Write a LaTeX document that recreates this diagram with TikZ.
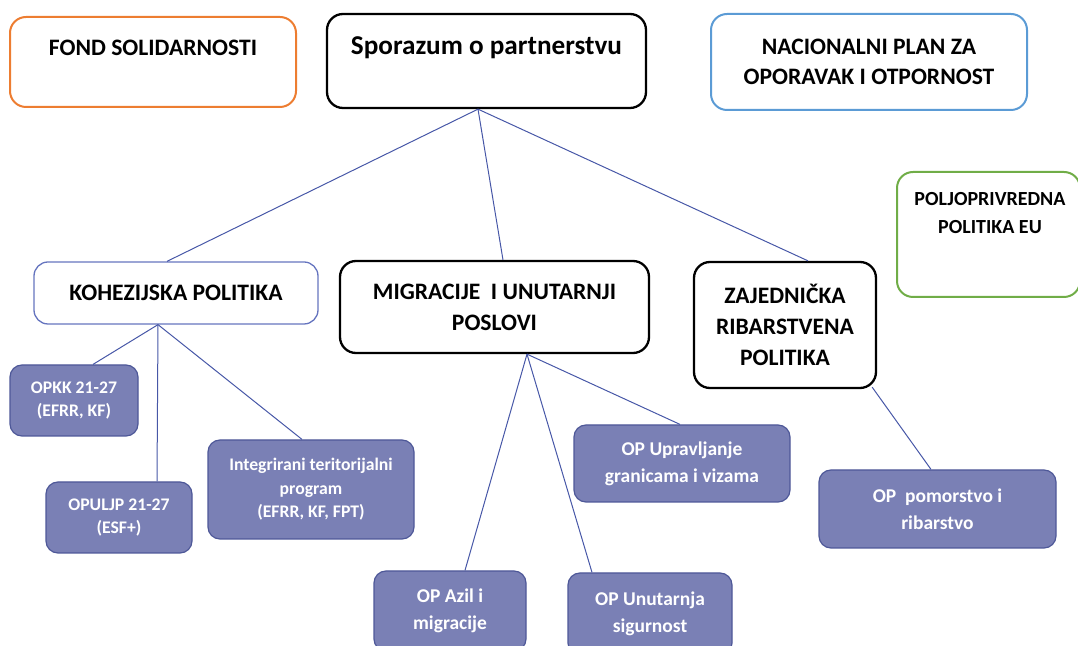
\documentclass[tikz,border=0pt]{standalone}
\usepackage{fontspec}
\setmainfont{Carlito}
\definecolor{opfill}{HTML}{7A80B5}
\definecolor{opline}{HTML}{4E5898}
\definecolor{conn}{HTML}{4757A7}
\definecolor{orangeline}{HTML}{ED7D31}
\definecolor{blueline}{HTML}{5B9BD5}
\definecolor{greenline}{HTML}{70AD47}
\definecolor{kohline}{HTML}{6574BF}
\tikzstyle{bigfont}=[font=\fontsize{11.8}{15.5}\selectfont\bfseries]
\tikzstyle{mainbox}=[draw, line width=1.15pt, rounded corners=8pt,
    align=center, inner sep=0pt, bigfont]
\tikzstyle{framebox}=[draw, line width=1pt, rounded corners=8pt,
    align=center, inner sep=0pt, bigfont]
\tikzstyle{kohbox}=[draw=kohline, line width=0.65pt, rounded corners=7pt,
    align=center, inner sep=0pt, bigfont]
\tikzstyle{lbl}=[align=center, inner sep=0pt, bigfont]
\tikzstyle{opbox}=[draw=opline, fill=opfill, line width=0.6pt,
    rounded corners=6pt, text=white, align=center, inner sep=0pt,
    font=\fontsize{9.75}{13.5}\selectfont\bfseries]
\tikzstyle{opsmall}=[opbox, font=\fontsize{8.85}{11.75}\selectfont\bfseries]
\tikzstyle{link}=[draw=conn, line width=0.5pt]
\begin{document}
\begin{tikzpicture}[x=0.5pt, y=-0.5pt]
    \useasboundingbox (0,0) rectangle (1078,646);
    % top row
    \node (fond) [framebox, draw=orangeline, minimum width=143pt,
        minimum height=45pt] at (153,62) {};
    \node (fondtxt) [lbl, anchor=base] at ([yshift=-19.85pt]fond.north)
        {FOND SOLIDARNOSTI};
    \node (spor) [mainbox, minimum width=159.5pt, minimum height=47pt]
        at (486.5,61) {};
    \node (sportxt) [lbl, anchor=base, font=\fontsize{13.6}{16}\selectfont\bfseries]
        at ([yshift=-20.9pt]spor.north) {Sporazum o partnerstvu};
    \node (npoo) [framebox, draw=blueline, minimum width=158pt,
        minimum height=48pt, font=\fontsize{11.8}{15}\selectfont\bfseries]
        at (869,62) {NACIONALNI PLAN ZA\\OPORAVAK I OTPORNOST};
    \node (poljo) [framebox, draw=greenline, minimum width=91.5pt,
        minimum height=62.5pt] at (988.5,234.5) {};
    \node (poljotxt) [lbl, anchor=north, font=\fontsize{10}{14}\selectfont\bfseries]
        at ([xshift=0.75pt, yshift=-10.3pt]poljo.north)
        {POLJOPRIVREDNA\\POLITIKA EU};
    % policies
    \node (kohez) [kohbox, minimum width=142pt, minimum height=31pt]
        at (176,293) {KOHEZIJSKA POLITIKA};
    \node (migr) [mainbox, minimum width=154.5pt, minimum height=46pt]
        at (494.5,307) {MIGRACIJE\ \ I UNUTARNJI\\POSLOVI};
    \node (zajed) [mainbox, minimum width=91pt, minimum height=63pt]
        at (785,325) {ZAJEDNIČKA\\RIBARSTVENA\\POLITIKA};
    % programmes
    \node (opkk) [opsmall, minimum width=64pt, minimum height=35.5pt]
        at (74,400.5) {OPKK 21-27\\(EFRR, KF)};
    \node (opuljp) [opsmall, minimum width=73pt, minimum height=35.5pt]
        at (119,517.5) {OPULJP 21-27\\(ESF+)};
    \node (itp) [opsmall, minimum width=103pt, minimum height=49.5pt]
        at (311,489.5) {Integrirani teritorijalni\\program\\(EFRR, KF, FPT)};
    \node (azil) [opbox, minimum width=76pt, minimum height=40pt]
        at (450,611) {OP Azil i\\migracije};
    \node (unut) [opbox, minimum width=82pt, minimum height=41pt]
        at (650,614) {OP Unutarnja\\sigurnost};
    \node (gran) [opbox, minimum width=108pt, minimum height=38.5pt]
        at (682,463.5) {OP Upravljanje\\granicama i vizama};
    \node (pomor) [opbox, minimum width=118.5pt, minimum height=39pt]
        at (937.5,509) {OP\ \ pomorstvo i\\ribarstvo};
    % links
    \coordinate (sphub) at ([xshift=-4.25pt]spor.south);
    \coordinate (kohub) at ([xshift=-9pt]kohez.south);
    \coordinate (mighub) at ([xshift=16.25pt]migr.south);
    \path [link] (sphub) -- ([xshift=-4.5pt]kohez.north);
    \path [link] (sphub) -- ([xshift=4.25pt]migr.north);
    \path [link] (sphub) -- ([xshift=11.5pt]zajed.north);
    \path [link] (kohub) -- ([xshift=9.5pt]opkk.north);
    \path [link] (kohub) -- ([xshift=19pt]opuljp.north);
    \path [link] (kohub) -- ([xshift=-4.5pt]itp.north);
    \path [link] (mighub) -- ([xshift=7.5pt]azil.north);
    \path [link] (mighub) -- ([xshift=-29pt]unut.north);
    \path [link] (mighub) -- ([xshift=-1pt]gran.north);
    \path [link] ([xshift=-2.5pt, yshift=1pt]zajed.south east)
        -- ([xshift=-3.25pt]pomor.north);
\end{tikzpicture}
\end{document}
